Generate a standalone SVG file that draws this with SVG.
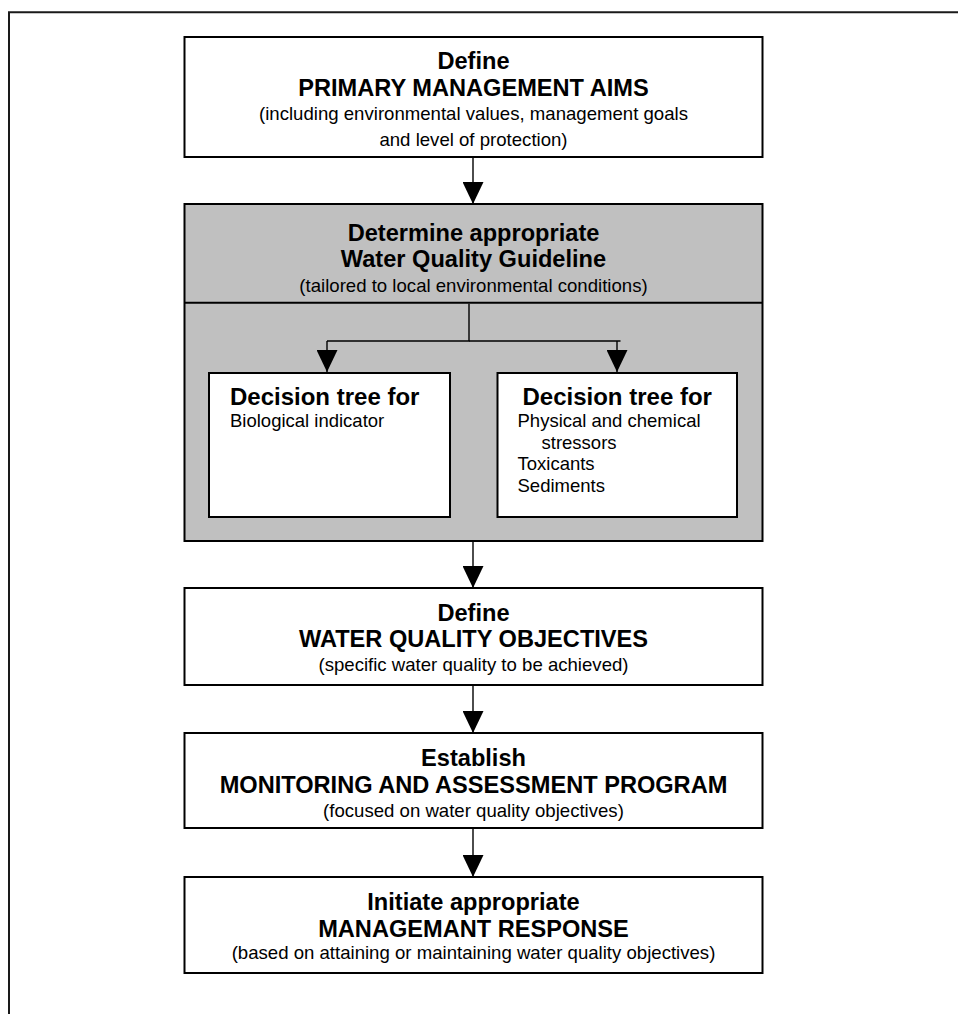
<svg xmlns="http://www.w3.org/2000/svg" width="958" height="1014" viewBox="0 0 958 1014">
<defs>
<style>
.box{fill:#fff;stroke:#000;stroke-width:2}
.gray{fill:#c0c0c0;stroke:#000;stroke-width:2}
.ln{fill:none;stroke:#000;stroke-width:1.4}
.t{font-family:"Liberation Sans",Arial,sans-serif;font-weight:bold;font-size:23.6px;text-anchor:middle;fill:#000}
.s{font-family:"Liberation Sans",Arial,sans-serif;font-size:18.6px;text-anchor:middle;fill:#000}
.h{font-family:"Liberation Sans",Arial,sans-serif;font-weight:bold;font-size:24px;fill:#000}
.b{font-family:"Liberation Sans",Arial,sans-serif;font-size:18.5px;fill:#000}
</style>
<marker id="arr" markerUnits="userSpaceOnUse" viewBox="0 0 22 21" markerWidth="22" markerHeight="21" refX="22" refY="10.5" orient="auto">
<path d="M0,0 L22,10.5 L0,21 z" fill="#000"/>
</marker>
</defs>
<rect width="958" height="1014" fill="#fff"/>
<path d="M958,12.3 H9 V1014" fill="none" stroke="#1a1a1a" stroke-width="2"/>

<g id="aims">
<rect class="box" x="184.5" y="37" width="578" height="120"/>
<text class="t" x="473.5" y="69">Define</text>
<text class="t" x="473.5" y="96">PRIMARY MANAGEMENT AIMS</text>
<text class="s" x="473.5" y="120">(including environmental values, management goals</text>
<text class="s" x="473.5" y="146">and level of protection)</text>
</g>

<g id="guideline">
<rect class="gray" x="184.5" y="204" width="578" height="337"/>
<line x1="184.5" y1="302.7" x2="762.5" y2="302.7" stroke="#000" stroke-width="2"/>
<text class="t" x="473.5" y="241">Determine appropriate</text>
<text class="t" x="473.5" y="267">Water Quality Guideline</text>
<text class="s" x="473.5" y="292">(tailored to local environmental conditions)</text>
</g>

<g id="bio">
<rect class="box" x="209" y="373" width="241" height="144"/>
<text class="h" x="230" y="405">Decision tree for</text>
<text class="b" x="230" y="427">Biological indicator</text>
</g>

<g id="phys">
<rect class="box" x="497.5" y="373" width="239.5" height="144"/>
<text class="h" x="522.5" y="405">Decision tree for</text>
<text class="b" x="517.5" y="427">Physical and chemical</text>
<text class="b" x="541.5" y="449">stressors</text>
<text class="b" x="517.5" y="470">Toxicants</text>
<text class="b" x="517.5" y="492">Sediments</text>
</g>

<g id="objectives">
<rect class="box" x="184.5" y="588" width="578" height="97"/>
<text class="t" x="473.5" y="621">Define</text>
<text class="t" x="473.5" y="647">WATER QUALITY OBJECTIVES</text>
<text class="s" x="473.5" y="671">(specific water quality to be achieved)</text>
</g>

<g id="monitoring">
<rect class="box" x="184.5" y="733" width="578" height="95"/>
<text class="t" x="473.5" y="766">Establish</text>
<text class="t" x="473.5" y="793">MONITORING AND ASSESSMENT PROGRAM</text>
<text class="s" x="473.5" y="817">(focused on water quality objectives)</text>
</g>

<g id="response">
<rect class="box" x="184.5" y="877" width="578" height="96"/>
<text class="t" x="473.5" y="910">Initiate appropriate</text>
<text class="t" x="473.5" y="937">MANAGEMANT RESPONSE</text>
<text class="s" x="473.5" y="959">(based on attaining or maintaining water quality objectives)</text>
</g>

<g id="connectors">
<line class="ln" x1="473" y1="158" x2="473" y2="204" marker-end="url(#arr)"/>
<polyline class="ln" points="469,303.7 469,341 327,341"/>
<polyline class="ln" points="469,341 620.5,341"/>
<line class="ln" x1="327" y1="341" x2="327" y2="372" marker-end="url(#arr)"/>
<line class="ln" x1="617" y1="341" x2="617" y2="372" marker-end="url(#arr)"/>
<line class="ln" x1="473" y1="542" x2="473" y2="588" marker-end="url(#arr)"/>
<line class="ln" x1="473" y1="686" x2="473" y2="733" marker-end="url(#arr)"/>
<line class="ln" x1="473" y1="829" x2="473" y2="877" marker-end="url(#arr)"/>
</g>
</svg>
